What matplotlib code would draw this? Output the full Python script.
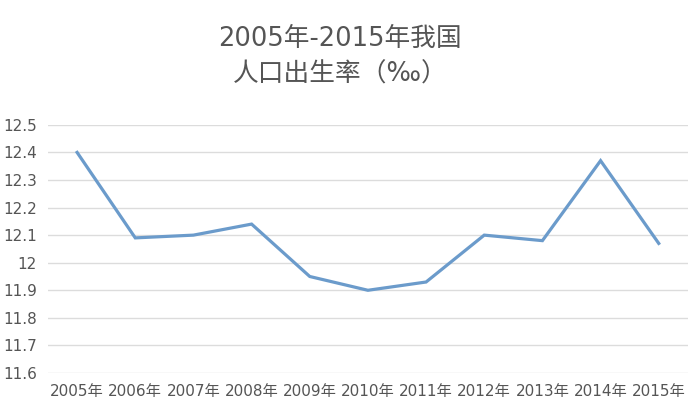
import matplotlib
matplotlib.use("Agg")
import matplotlib.pyplot as plt

plt.rcParams['font.family'] = ['DejaVu Sans', 'Noto Sans CJK SC']

years = ["2005年", "2006年", "2007年", "2008年", "2009年", "2010年",
         "2011年", "2012年", "2013年", "2014年", "2015年"]
birth_rate = [12.40, 12.09, 12.10, 12.14, 11.95, 11.90, 11.93, 12.10, 12.08, 12.37, 12.07]
y_ticks = [11.6, 11.7, 11.8, 11.9, 12.0, 12.1, 12.2, 12.3, 12.4, 12.5]
y_tick_labels = ["11.6", "11.7", "11.8", "11.9", "12", "12.1", "12.2", "12.3", "12.4", "12.5"]

fig = plt.figure(figsize=(7.0, 4.15), dpi=100)
ax = fig.add_axes([0.0686, 0.1012, 0.914, 0.598])

x = list(range(len(years)))
ax.plot(x, birth_rate, color="#6b9bcb", linewidth=2.3, solid_joinstyle="miter", zorder=3)

ax.set_xlim(-0.5, len(years) - 0.5)
ax.set_ylim(11.6, 12.5)
ax.set_yticks(y_ticks)
ax.set_yticklabels(y_tick_labels)
ax.set_xticks(x)
ax.set_xticklabels(years)
ax.grid(axis="y", color="#dcdcdc", linewidth=1.0)
ax.set_axisbelow(True)
for s in ax.spines.values():
    s.set_visible(False)
ax.tick_params(axis="both", length=0, colors="#555555", labelsize=11)
ax.tick_params(axis="y", pad=8)
ax.tick_params(axis="x", pad=8)

fig.text(0.486, 0.906, "2005年-2015年我国", ha="center", va="center",
         fontsize=18.5, color="#555555")
fig.text(0.486, 0.821, "人口出生率（‰）", ha="center", va="center",
         fontsize=18.5, color="#555555")

fig.savefig("out.png", dpi=100)
